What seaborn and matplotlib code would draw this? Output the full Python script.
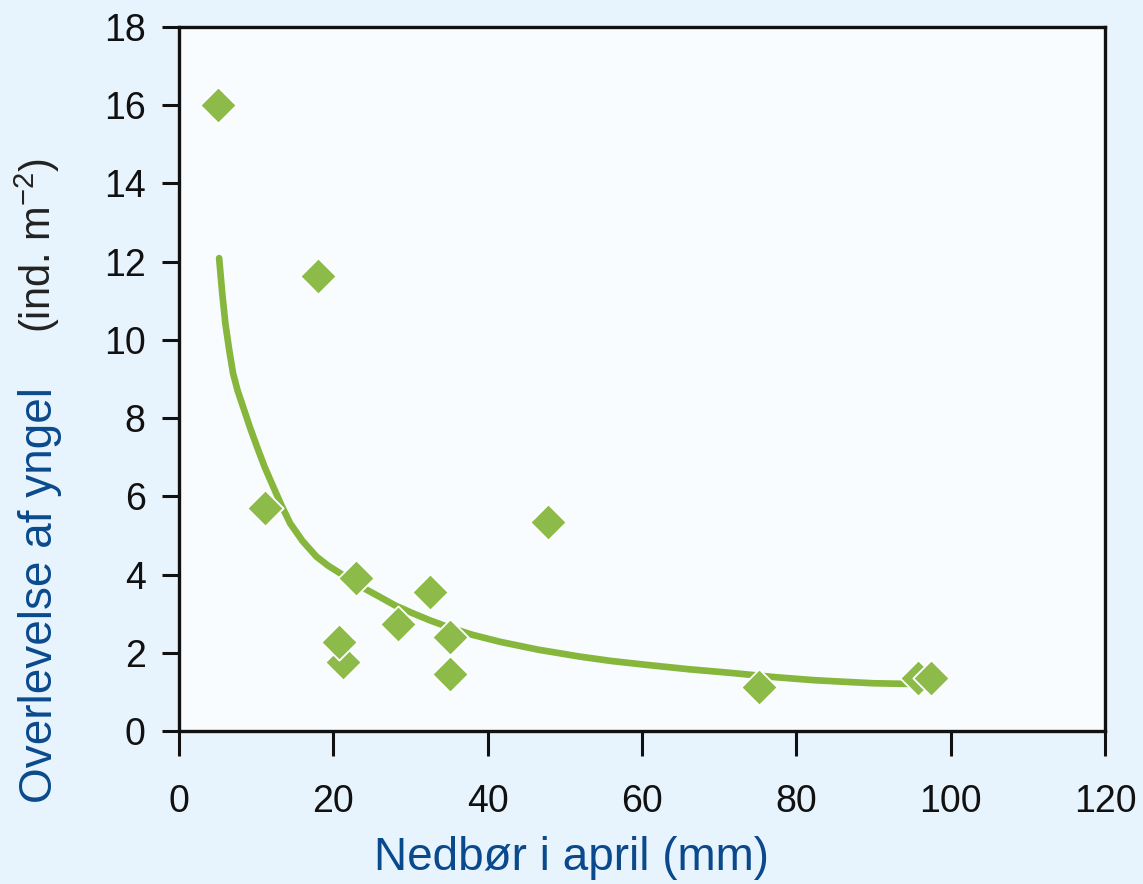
import numpy as np
import pandas as pd
import matplotlib
matplotlib.use("Agg")
import matplotlib.pyplot as plt
import seaborn as sns

# april rainfall (mm) vs fry survival (ind. m-2)
rain = [5.0, 18.0, 11.1, 22.9, 21.3, 20.7, 28.4, 32.5, 35.1, 35.1, 47.8, 75.2, 95.8, 97.4]
survival = [16.0, 11.64, 5.70, 3.91, 1.76, 2.28, 2.74, 3.55, 2.40, 1.46, 5.35, 1.13, 1.36, 1.36]

# fitted curve
curve_x = [5.2, 5.6, 6.0, 6.5, 7.0, 7.6, 8.3, 9.2, 10.1, 11.1, 12.2, 13.3, 14.4, 16.0,
           17.8, 19.3, 20.9, 23.4, 26.0, 28.0, 30.3, 32.5, 34.7, 38.0, 41.6, 46.5,
           52.0, 56.0, 60.6, 66.0, 71.8, 77.0, 82.2, 86.0, 90.0, 95.5]
curve_y = [12.09, 11.2, 10.43, 9.75, 9.15, 8.70, 8.29, 7.76, 7.27, 6.75, 6.25, 5.76,
           5.31, 4.86, 4.46, 4.23, 4.03, 3.71, 3.43, 3.21, 3.01, 2.83, 2.67, 2.46,
           2.28, 2.08, 1.90, 1.79, 1.69, 1.58, 1.48, 1.38, 1.30, 1.26, 1.22, 1.20]

xticks = [0, 20, 40, 60, 80, 100, 120]
yticks = [0, 2, 4, 6, 8, 10, 12, 14, 16, 18]

sns.set_style("ticks")
plt.rcParams['font.family'] = ['Liberation Sans', 'DejaVu Sans']
plt.rcParams['mathtext.fontset'] = 'custom'
plt.rcParams['mathtext.rm'] = 'Liberation Sans'
plt.rcParams['mathtext.it'] = 'Liberation Sans:italic'

bg = '#e8f4fd'
green = '#8cbb4a'
line_green = '#86b63c'
blue = '#0a4a8c'

fig = plt.figure(figsize=(11.43, 8.84), dpi=100, facecolor=bg)
ax = fig.add_axes([0.1566, 0.1731, 0.8102, 0.7964])
ax.set_facecolor('#f8fcff')

df = pd.DataFrame({'rain': rain, 'survival': survival})
curve = pd.DataFrame({'x': curve_x, 'y': curve_y})

sns.lineplot(data=curve, x='x', y='y', ax=ax, color=line_green, linewidth=4.8,
             sort=False, zorder=2, solid_capstyle='round', solid_joinstyle='round')
sns.scatterplot(data=df, x='rain', y='survival', ax=ax, marker='D', s=340,
                color=green, edgecolor='white', linewidth=1.3, zorder=3)

ax.set_xlim(0, 120)
ax.set_ylim(0, 18)
ax.set_xticks(xticks)
ax.set_yticks(yticks)
ax.set_xlabel('')
ax.set_ylabel('')

for s in ax.spines.values():
    s.set_linewidth(2.4)
    s.set_color('#111111')
ax.tick_params(axis='x', length=18, width=2.2, pad=20, labelsize=27, colors='#111111')
ax.tick_params(axis='y', length=12, width=2.2, pad=12, labelsize=27, colors='#111111')

fig.text(571 / 1143, 1 - 858 / 884, 'Nedbør i april (mm)', ha='center', va='center',
         fontsize=33, color=blue)
fig.text(40 / 1143, 1 - 595 / 884, 'Overlevelse af yngel', ha='center', va='center',
         rotation=90, fontsize=33, color=blue)
fig.text(37 / 1143, 1 - 245 / 884, '(ind. m$^{\u2212 2}$)', ha='center', va='center',
         rotation=90, fontsize=30, color='#222222')

fig.savefig('out.png', dpi=100, facecolor=bg)
